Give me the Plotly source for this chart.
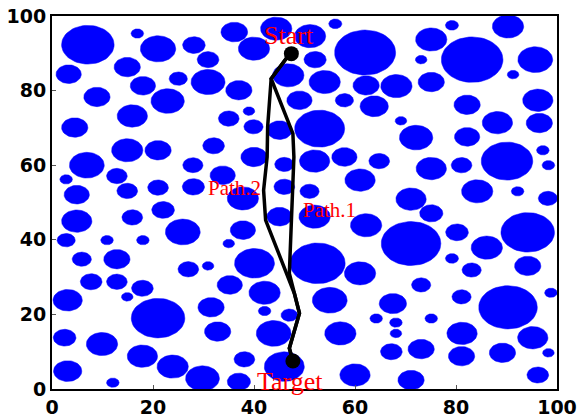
import numpy as np
import plotly.graph_objects as go

# Obstacles (circles in data units): centre x, centre y, radius
circle_x = [7.1, 16.9, 21.0, 28.1, 30.9, 3.3, 14.9, 25.0, 30.9, 18.0, 22.9, 8.9, 15.9, 4.5,
            36.1, 44.4, 56.1, 40.0, 51.1, 52.1, 46.8, 54.0, 37.0, 49.0, 57.9, 39.0, 35.0, 39.9, 45.05, 53.0, 62.2, 63.8, 62.0,
            79.2, 90.3, 75.1, 73.1, 83.2, 95.7, 91.3, 75.1, 68.2, 82.2, 96.2, 69.1, 88.2, 96.5, 72.1, 82.2,
            14.9, 21.0, 6.9, 27.9, 12.85, 2.8, 4.9, 14.9, 21.0, 28.0, 22.0, 15.9, 4.9, 25.9, 2.8, 10.9, 18.0, 5.9, 12.85, 27.0,
            32.0, 40.0, 46.0, 52.0, 57.9, 64.8, 33.8, 46.0, 51.0, 61.0, 37.8, 45.05, 52.0, 62.2, 37.8, 35.0, 40.1, 52.6, 30.9, 61.0,
            75.1, 81.1, 90.1, 97.2, 98.3, 84.2, 92.2, 98.2, 71.1, 75.1, 71.1, 80.2, 86.1, 94.2, 79.2, 83.1, 94.2,
            7.76, 12.85, 17.9, 14.9, 3.1, 21.0, 2.5, 9.9, 17.9, 23.9, 3.1, 12.05,
            35.2, 42.1, 55.0, 31.5, 42.1, 47.0, 64.2, 32.8, 43.9, 57.1, 38.1, 46.0, 29.8, 37.0, 60.0,
            73.1, 81.1, 90.3, 98.8, 67.5, 75.1, 68.1, 68.1, 81.2, 95.2, 67.2, 73.1, 81.1, 89.2, 98.3, 71.1, 96.2]
circle_y = [92.3, 95.3, 91.2, 92.2, 88.3, 84.4, 86.3, 83.2, 82.3, 81.3, 77.2, 78.3, 73.2, 70.1,
            95.7, 96.6, 97.9, 91.25, 94.6, 88.3, 84.1, 82.3, 80.1, 77.4, 77.4, 74.5, 72.5, 70.3, 69.4, 69.8, 81.4, 75.8, 90.2,
            97.5, 97.2, 93.7, 88.3, 88.3, 88.3, 84.3, 82.3, 81.2, 76.2, 77.4, 71.9, 71.4, 71.3, 67.4, 67.6,
            64.0, 64.0, 60.0, 60.0, 57.1, 56.2, 52.1, 53.1, 54.0, 54.2, 48.0, 46.0, 45.0, 42.1, 39.9, 39.9, 39.9, 34.8, 34.8, 32.1,
            65.2, 62.2, 60.2, 61.1, 62.2, 61.1, 57.3, 54.2, 53.0, 56.0, 51.1, 46.2, 46.2, 43.9, 42.6, 39.0, 33.7, 33.7, 33.0, 31.0,
            59.1, 60.0, 61.1, 64.0, 60.0, 53.0, 53.0, 51.1, 50.9, 47.1, 39.0, 42.0, 37.9, 42.0, 35.0, 31.9, 33.0,
            28.75, 28.75, 27.0, 24.7, 23.8, 19.0, 13.75, 12.05, 8.8, 6.0, 4.8, 1.7,
            27.9, 25.8, 23.8, 21.9, 20.9, 19.8, 18.9, 15.4, 14.9, 14.9, 7.95, 6.0, 2.86, 1.96, 3.75,
            27.9, 24.7, 21.9, 25.8, 22.9, 18.9, 17.8, 14.9, 14.9, 13.75, 10.0, 10.7, 8.8, 9.7, 9.7, 2.4, 3.75]
circle_r = [5.2, 1.25, 3.5, 2.24, 2.15, 2.5, 2.6, 1.8, 3.37, 2.5, 3.3, 2.6, 3.0, 2.6,
            2.64, 3.1, 1.3, 3.1, 3.1, 2.2, 3.1, 3.1, 2.6, 2.5, 1.8, 1.15, 2.05, 1.9, 2.5, 4.95, 2.6, 2.8, 6.04,
            1.3, 3.1, 3.1, 1.15, 6.1, 3.45, 1.15, 2.6, 3.1, 2.6, 3.0, 1.15, 3.0, 2.6, 3.3, 2.5,
            3.1, 2.6, 3.45, 2.0, 2.05, 1.25, 2.5, 2.05, 2.05, 2.2, 2.25, 2.05, 3.0, 3.45, 1.8, 1.25, 1.25, 1.9, 2.6, 2.05,
            2.15, 2.6, 1.9, 3.0, 2.5, 2.05, 2.5, 2.05, 1.9, 3.0, 3.1, 2.5, 3.1, 3.1, 2.5, 1.15, 3.96, 5.45, 1.15, 3.1,
            3.0, 2.05, 5.1, 1.25, 1.25, 3.1, 1.25, 1.9, 3.0, 2.3, 5.9, 2.25, 3.1, 5.3, 1.3, 1.9, 2.6,
            2.15, 2.05, 2.15, 1.15, 2.9, 5.3, 2.25, 3.1, 3.0, 3.1, 2.8, 1.25,
            2.5, 3.1, 3.45, 2.6, 1.25, 1.65, 1.25, 2.6, 3.45, 3.1, 2.05, 3.96, 3.35, 2.3, 3.0,
            1.9, 1.9, 5.8, 1.25, 2.7, 1.25, 1.25, 1.15, 3.0, 3.0, 2.15, 2.6, 2.6, 2.6, 1.15, 2.6, 2.15]

# Paths
path1_x = [47.4, 46.4, 43.4, 45.7, 47.7, 47.9, 47.4, 47.0, 49.0, 47.0, 47.7]
path1_y = [89.9, 88.6, 83.2, 75.6, 68.5, 62.2, 46.2, 31.0, 20.3, 10.9, 7.5]
path2_x = [47.4, 46.4, 43.4, 42.7, 42.6, 41.9, 42.3, 48.0, 49.0, 47.0, 47.7]
path2_y = [89.9, 88.6, 83.2, 70.3, 62.2, 53.3, 45.3, 25.6, 20.3, 10.9, 7.5]

start_xy = (47.4, 89.9)
target_xy = (47.7, 7.5)

labels = ["Start", "Target", "Path.2", "Path.1"]
label_x = [46.9, 47.2, 36.1, 54.95]
label_y = [94.8, 2.1, 53.9, 47.95]
label_size = [26, 26, 21, 21]

ticks = [0, 20, 40, 60, 80, 100]

t = np.linspace(0, 2 * np.pi, 61)
xs, ys = [], []
for cx, cy, r in zip(circle_x, circle_y, circle_r):
    xs += list(cx + r * np.cos(t)) + [None]
    ys += list(cy + r * np.sin(t)) + [None]

fig = go.Figure()
fig.add_trace(go.Scatter(x=xs, y=ys, mode="lines", fill="toself", fillcolor="#0000ff",
                         line=dict(width=0.5, color="#0000ff"), hoverinfo="skip", showlegend=False))
fig.add_trace(go.Scatter(x=path1_x, y=path1_y, mode="lines", line=dict(color="black", width=3.5), showlegend=False))
fig.add_trace(go.Scatter(x=path2_x, y=path2_y, mode="lines", line=dict(color="black", width=3.5), showlegend=False))
fig.add_trace(go.Scatter(x=[start_xy[0], target_xy[0]], y=[start_xy[1], target_xy[1]], mode="markers",
                         marker=dict(color="black", size=15), showlegend=False))

for txt, lx, ly, sz in zip(labels, label_x, label_y, label_size):
    fig.add_annotation(x=lx, y=ly, xref="x", yref="y", text=txt, showarrow=False,
                       font=dict(family="Liberation Serif", size=sz, color="#ff0000"),
                       xanchor="center", yanchor="middle")

axis_common = dict(range=[0, 100], tickvals=ticks, ticks="inside", ticklen=4, tickcolor="#555",
                   showgrid=False, zeroline=False, showline=True, linecolor="black", linewidth=2,
                   mirror=True, automargin=False, ticklabeloverflow="allow",
                   tickfont=dict(family="DejaVu Sans", size=19, color="black", weight="bold"))
fig.update_xaxes(**axis_common)
fig.update_yaxes(**axis_common)

fig.update_layout(width=581, height=419, margin=dict(l=52, r=24, t=16, b=30),
                  plot_bgcolor="white", paper_bgcolor="white")

fig.write_html("out.html", config={"displayModeBar": False},
               post_script="document.body.style.margin='0';document.body.style.overflow='hidden';")
